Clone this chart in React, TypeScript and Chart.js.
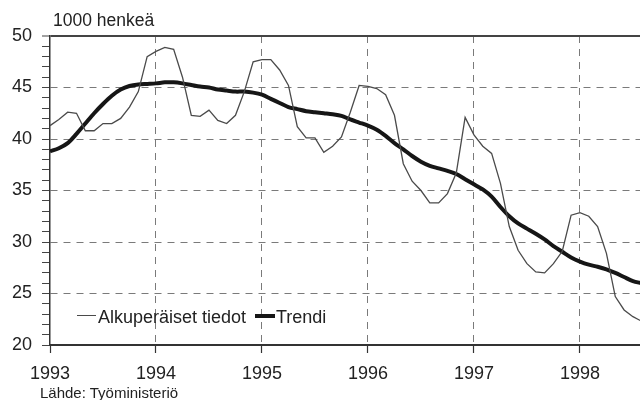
import React, { useEffect, useRef } from "react";
import { Chart, registerables } from "chart.js";

Chart.register(...registerables);

const yearLabels = ["1993", "1994", "1995", "1996", "1997", "1998"];

const original = [
  41.3, 41.9, 42.6, 42.5, 40.8, 40.8, 41.5, 41.5, 42.0, 43.1, 44.6, 48.0,
  48.5, 48.9, 48.7, 46.0, 42.3, 42.2, 42.8, 41.8, 41.5, 42.3, 44.6, 47.5,
  47.7, 47.7, 46.7, 45.2, 41.2, 40.1, 40.1, 38.7, 39.3, 40.2, 42.6, 45.2,
  45.1, 44.9, 44.3, 42.3, 37.6, 35.9, 35.0, 33.8, 33.8, 34.7, 36.7, 42.1,
  40.4, 39.3, 38.6, 35.7, 31.5, 29.2, 27.9, 27.1, 27.0, 27.9, 29.1, 32.6,
  32.85, 32.5, 31.5, 28.9, 24.7, 23.4, 22.75, 22.3,
];

const trend = [
  38.8, 39.1, 39.6, 40.5, 41.5, 42.5, 43.4, 44.2, 44.8, 45.15, 45.3, 45.35,
  45.4, 45.5, 45.5, 45.4, 45.25, 45.1, 45.0, 44.8, 44.7, 44.6, 44.6, 44.5,
  44.3, 43.9, 43.5, 43.1, 42.9, 42.7, 42.6, 42.5, 42.4, 42.25, 41.9, 41.6,
  41.3, 40.9, 40.3, 39.6, 39.0, 38.35, 37.8, 37.4, 37.15, 36.9, 36.6, 36.1,
  35.6, 35.1, 34.4, 33.4, 32.5, 31.8, 31.3, 30.8, 30.25, 29.6, 29.05, 28.5,
  28.1, 27.8, 27.6, 27.35, 27.0, 26.6, 26.2, 26.0,
];

const seriesNames = ["Alkuperäiset tiedot", "Trendi"];
const unitLabel = "1000 henkeä";
const sourceLabel = "Lähde: Työministeriö";

const FONT = "'Liberation Sans', Arial, sans-serif";
const TEXT = "#222";

export default function App() {
  const ref = useRef<HTMLCanvasElement | null>(null);

  useEffect(() => {
    if (!ref.current) return;
    const toPts = (arr: number[]) => arr.map((v, i) => ({ x: i, y: v }));
    const chart = new Chart(ref.current, {
      type: "line",
      data: {
        datasets: [
          {
            label: seriesNames[0],
            data: toPts(original),
            borderColor: "#4a4a4a",
            borderWidth: 1.3,
            pointRadius: 0,
            tension: 0,
          },
          {
            label: seriesNames[1],
            data: toPts(trend),
            borderColor: "#161616",
            borderWidth: 4,
            pointRadius: 0,
            tension: 0.3,
          },
        ],
      },
      options: {
        responsive: false,
        animation: false,
        layout: { padding: { top: 36, left: 0, right: 0, bottom: 0 } },
        plugins: { legend: { display: false }, tooltip: { enabled: false }, title: { display: false } },
        scales: {
          x: {
            type: "linear",
            min: 0,
            max: 66.8,
            ticks: {
              stepSize: 12,
              includeBounds: false,
              autoSkip: false,
              maxRotation: 0,
              padding: 10,
              color: TEXT,
              font: { family: FONT, size: 18 },
              callback: (v: any) => {
                const n = Number(v);
                return n % 12 === 0 ? yearLabels[n / 12] ?? "" : "";
              },
            },
            grid: {
              color: (ctx: any) => (ctx.tick && ctx.tick.value === 0 ? "transparent" : "#7a7a7a"),
              lineWidth: 1,
              tickColor: "#333",
              tickLength: 8,
              tickBorderDash: [],
              tickWidth: 1.2,
            },
            border: { color: "#333", width: 2, dash: [7, 6] },
            afterFit: (s: any) => {
              s.height = 55;
            },
          },
          y: {
            type: "linear",
            min: 20,
            max: 50,
            ticks: {
              stepSize: 1,
              autoSkip: false,
              padding: 10,
              color: TEXT,
              font: { family: FONT, size: 18 },
              callback: (v: any) => (Number(v) % 5 === 0 ? String(v) : ""),
            },
            grid: {
              color: (ctx: any) => {
                const v = ctx.tick ? ctx.tick.value : NaN;
                if (v === 50) return "#444";
                if (v % 5 === 0 && v !== 20) return "#7a7a7a";
                return "transparent";
              },
              lineWidth: (ctx: any) => (ctx.tick && ctx.tick.value === 50 ? 2 : 1),
              tickColor: "#444",
              tickLength: 8,
              tickBorderDash: [],
              tickWidth: 1,
            },
            border: {
              color: "#333",
              width: 1.5,
              dash: (ctx: any) => (ctx.tick && ctx.tick.value === 50 ? [] : [7, 6]),
            },
            afterFit: (s: any) => {
              s.width = 50;
            },
          },
        },
      },
    });
    return () => chart.destroy();
  }, []);

  const txt: React.CSSProperties = {
    position: "absolute",
    fontFamily: FONT,
    color: TEXT,
    whiteSpace: "nowrap",
    margin: 0,
  };

  return (
    <div style={{ position: "absolute", left: 0, top: 0, width: 640, height: 400, background: "#fff", overflow: "hidden" }}>
      <canvas ref={ref} width={640} height={400} style={{ display: "block", width: 640, height: 400 }} />
      <div style={{ ...txt, left: 53, top: 12, fontSize: 17.5, lineHeight: "17px" }}>{unitLabel}</div>
      <div style={{ position: "absolute", left: 77, top: 315, width: 19, height: 1.4, background: "#4a4a4a" }} />
      <div style={{ ...txt, left: 98, top: 308, fontSize: 18, lineHeight: "18px" }}>{seriesNames[0]}</div>
      <div style={{ position: "absolute", left: 255, top: 313.5, width: 20, height: 4, background: "#161616" }} />
      <div style={{ ...txt, left: 276, top: 308, fontSize: 18, lineHeight: "18px" }}>{seriesNames[1]}</div>
      <div style={{ ...txt, left: 40, top: 385, fontSize: 15, lineHeight: "15px" }}>{sourceLabel}</div>
    </div>
  );
}
